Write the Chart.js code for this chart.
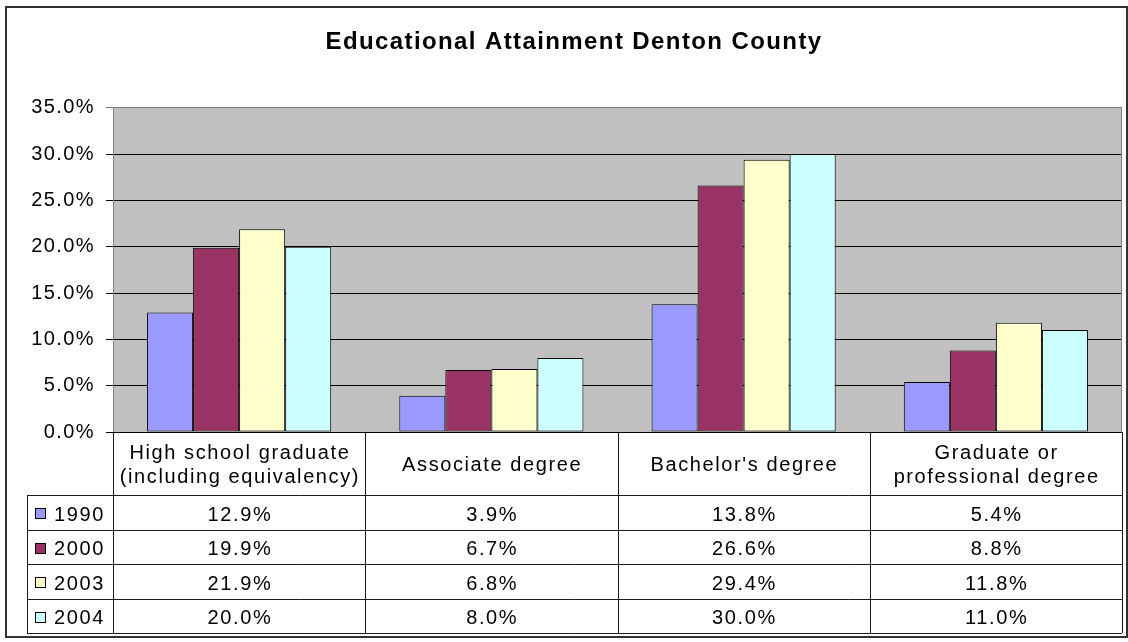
<!DOCTYPE html>
<html>
<head>
<meta charset="utf-8">
<title>Educational Attainment Denton County</title>
<script src="https://cdn.jsdelivr.net/npm/chart.js@4.4.1/dist/chart.umd.min.js"></script>
<style>
  html, body { margin: 0; padding: 0; background: #fff; }
  #wrap { position: relative; width: 1128px; height: 642px; }
</style>
</head>
<body>
<div id="wrap"><canvas id="eduChart"></canvas></div>
<script>
// --- Data ---
const categories = [
    ['High school graduate', '(including equivalency)'],
    ['Associate degree'],
    ["Bachelor's degree"],
    ['Graduate or', 'professional degree']
];
const years = ['1990', '2000', '2003', '2004'];
const values1990 = [12.9, 3.9, 13.8, 5.4];
const values2000 = [19.9, 6.7, 26.6, 8.8];
const values2003 = [21.9, 6.8, 29.4, 11.8];
const values2004 = [20.0, 8.0, 30.0, 11.0];
const seriesValues = [values1990, values2000, values2003, values2004];
const seriesColors = ['#9999FF', '#993366', '#FFFFCC', '#CCFFFF'];
const yMax = 35;
const yStep = 5;

const FONT = '"Liberation Sans", Arial, sans-serif';

function pct(v) {
    return v.toFixed(1) + '%';
}

// grey plot area + outer frame; also widens the text a bit like the Excel original
const framePlugin = {
    id: 'frame',
    beforeDraw(chart) {
        const { ctx, chartArea: a } = chart;
        ctx.save();
        ctx.fillStyle = '#C0C0C0';
        ctx.fillRect(a.left, a.top, a.right - a.left, a.bottom - a.top);
        ctx.restore();
        ctx.letterSpacing = '1.4px';
    },
    afterDatasetsDraw(chart) {
        const { ctx, chartArea: a } = chart;
        ctx.save();
        ctx.strokeStyle = '#808080';
        ctx.lineWidth = 1;
        ctx.beginPath();
        ctx.moveTo(Math.round(a.right) - 0.5, a.top);
        ctx.lineTo(Math.round(a.right) - 0.5, a.bottom);
        ctx.stroke();
        ctx.restore();
    }
};

// data table under the plot (category row + one row per year)
const dataTablePlugin = {
    id: 'dataTable',
    afterDraw(chart) {
        const { ctx, chartArea: a } = chart;
        const x = chart.scales.x;
        const colW = x.getPixelForValue(1) - x.getPixelForValue(0);
        const headTop = a.bottom;
        const headBot = a.bottom + 63;
        const rowH = 34.5;
        const tableLeft = 27;
        const tableBot = headBot + rowH * years.length;
        const crisp = v => Math.round(v) + 0.5;

        ctx.save();
        ctx.letterSpacing = '1.6px';
        ctx.strokeStyle = '#1a1a1a';
        ctx.lineWidth = 1;
        ctx.beginPath();
        for (let i = 0; i <= categories.length; i++) {
            const xx = crisp(x.getPixelForValue(i) - colW / 2);
            ctx.moveTo(xx, headTop);
            ctx.lineTo(xx, tableBot);
        }
        ctx.moveTo(crisp(tableLeft), crisp(headBot));
        ctx.lineTo(crisp(tableLeft), crisp(tableBot));
        for (let r = 0; r <= years.length; r++) {
            const yy = crisp(headBot + rowH * r);
            ctx.moveTo(tableLeft, yy);
            ctx.lineTo(Math.round(a.right), yy);
        }
        ctx.stroke();

        ctx.fillStyle = '#000';
        ctx.font = '20px ' + FONT;
        ctx.textAlign = 'center';
        ctx.textBaseline = 'alphabetic';

        // category labels
        categories.forEach((lines, i) => {
            const cx = x.getPixelForValue(i) + 0.8;
            const mid = (headTop + headBot) / 2;
            const lineH = 24;
            const first = mid - (lines.length - 1) * lineH / 2;
            lines.forEach((txt, j) => {
                ctx.fillText(txt, cx, first + j * lineH + 7);
            });
        });

        // rows with legend keys
        years.forEach((yr, r) => {
            const top = headBot + rowH * r;
            ctx.fillStyle = seriesColors[r];
            ctx.fillRect(35, Math.round(top + 13), 11, 11);
            ctx.strokeStyle = '#000';
            ctx.strokeRect(35.5, Math.round(top + 13) + 0.5, 10, 10);
            ctx.fillStyle = '#000';
            ctx.textAlign = 'left';
            ctx.fillText(yr, 54, top + 25.5);
            ctx.textAlign = 'center';
            seriesValues[r].forEach((v, i) => {
                ctx.fillText(pct(v), x.getPixelForValue(i) + 0.8, top + 25.5);
            });
        });

        // outer chart border
        ctx.strokeStyle = '#333';
        ctx.lineWidth = 2;
        ctx.strokeRect(6, 7, 1121, 630);
        ctx.restore();
        ctx.letterSpacing = '0px';
    }
};

new Chart(document.getElementById('eduChart'), {
    type: 'bar',
    data: {
        labels: categories,
        datasets: years.map((yr, i) => ({
            label: yr,
            data: seriesValues[i],
            backgroundColor: seriesColors[i],
            borderColor: '#000',
            borderWidth: 1,
            borderSkipped: false,
            categoryPercentage: 0.73,
            barPercentage: 1.0
        }))
    },
    options: {
        responsive: true,
        maintainAspectRatio: false,
        animation: false,
        layout: { padding: { left: 26, right: 6, top: 8, bottom: 210 } },
        plugins: {
            legend: { display: false },
            tooltip: { enabled: false },
            title: {
                display: true,
                text: 'Educational Attainment Denton County',
                color: '#000',
                font: { family: FONT, size: 24, weight: 'bold' },
                padding: { top: 20, bottom: 51 }
            }
        },
        scales: {
            x: { display: false },
            y: {
                min: 0,
                max: yMax,
                ticks: {
                    stepSize: yStep,
                    color: '#000',
                    padding: 11,
                    font: { family: FONT, size: 20 },
                    callback: v => pct(v)
                },
                grid: {
                    color: c => (c.tick && c.tick.value === yMax) ? '#808080' : '#000',
                    tickLength: 7,
                    lineWidth: 1
                },
                border: { color: '#808080' },
                afterFit: s => { s.width = 87; }
            }
        }
    },
    plugins: [framePlugin, dataTablePlugin]
});
</script>
</body>
</html>
